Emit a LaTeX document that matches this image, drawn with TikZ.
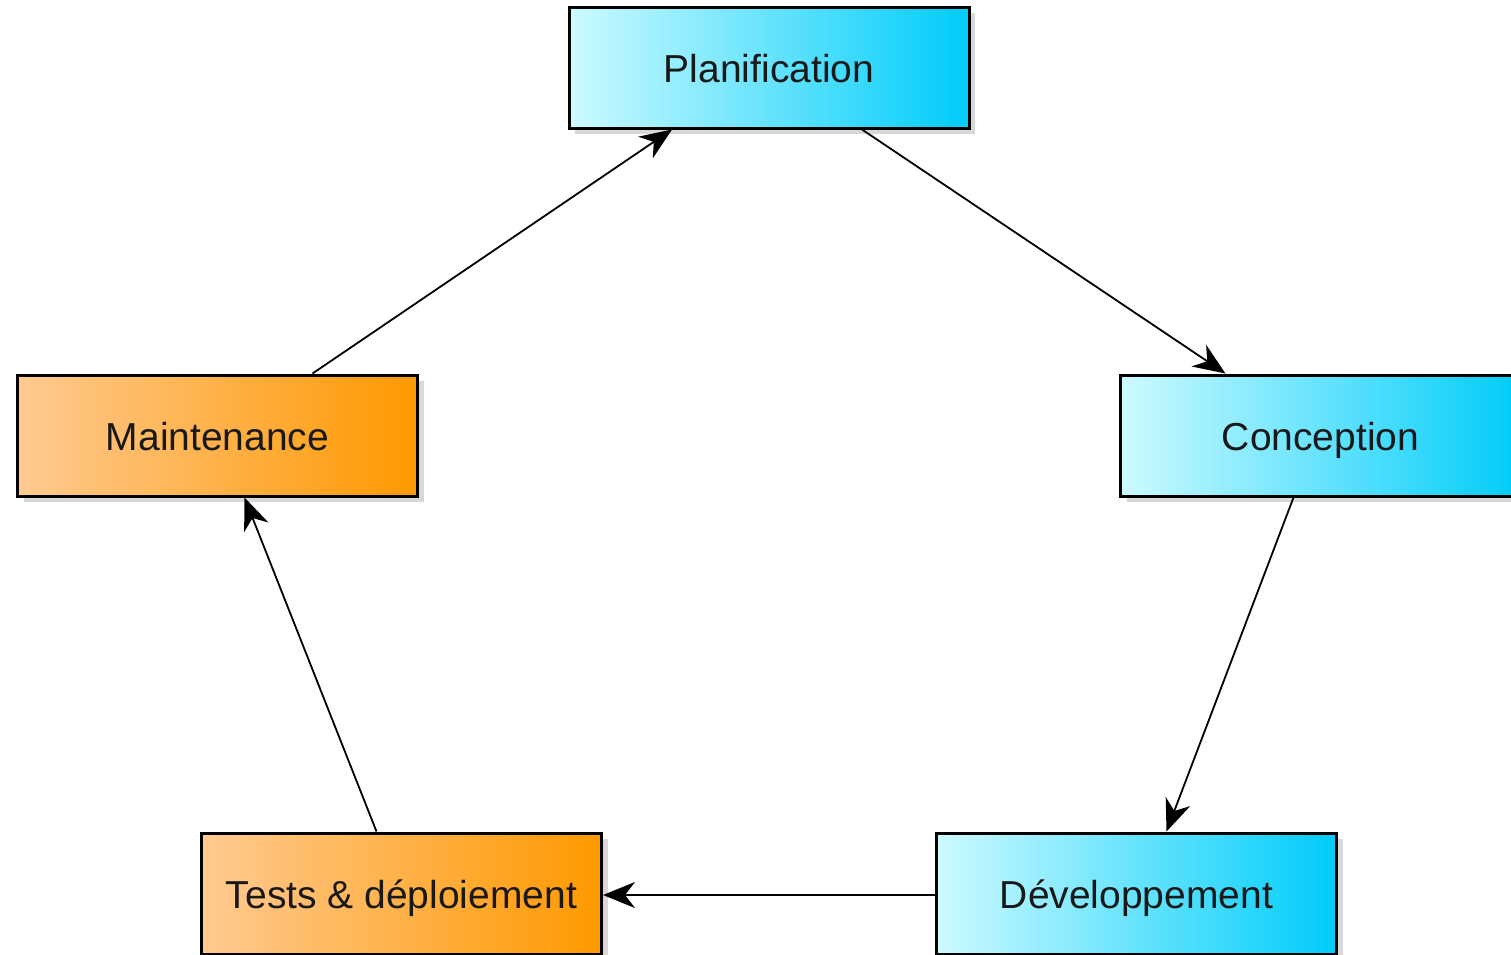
\documentclass[tikz,border=0pt]{standalone}
\usepackage{fontspec}
\setmainfont{Liberation Sans}
\usetikzlibrary{arrows.meta,shadows}

\definecolor{cyanclair}{RGB}{205,250,255}
\definecolor{cyanfonce}{RGB}{0,204,250}
\definecolor{orangeclair}{RGB}{255,202,145}
\definecolor{orangefonce}{RGB}{255,153,0}

\tikzset{
  etape/.style={draw=black, line width=1.5pt, minimum width=200pt, minimum height=60.5pt,
    inner sep=0pt, text height=15pt, text depth=0pt,
    font=\fontsize{19.5}{22}\selectfont, text=black!90,
    drop shadow={opacity=0.3, shadow xshift=3pt, shadow yshift=-3pt}},
  bleu/.style={etape, left color=cyanclair, right color=cyanfonce},
  orange/.style={etape, left color=orangeclair, right color=orangefonce},
  fleche/.style={-{Stealth[length=16pt,width=13pt,inset=5pt]}, line width=0.9pt}
}

\begin{document}
\begin{tikzpicture}[x=0.5pt, y=-0.5pt]
    % cadre
    \useasboundingbox[fill=white] (0,0) rectangle (1511,954);

    % les étapes
    \node[bleu] (plan) at (769,67.5) {Planification};
    \node[bleu] (conc) at (1320.5,435.5) {Conception};
    \node[bleu] (dev) at (1136.5,893.5) {Développement};
    \node[orange] (tests) at (401.5,893.5) {Tests \& déploiement};
    \node[orange] (maint) at (217.5,435.5) {Maintenance};

    % les flèches du cycle
    \draw[fleche] ([xshift=46.5pt]plan.south) -- ([xshift=-47.5pt]conc.north);
    \draw[fleche] ([xshift=-13.5pt]conc.south) -- ([xshift=15pt]dev.north);
    \draw[fleche] ([yshift=-0.75pt]dev.west) -- ([yshift=-0.75pt]tests.east);
    \draw[fleche] ([xshift=-12.5pt]tests.north) -- ([xshift=13.5pt]maint.south);
    \draw[fleche] ([xshift=47.5pt]maint.north) -- ([xshift=-48.5pt]plan.south);
\end{tikzpicture}
\end{document}
